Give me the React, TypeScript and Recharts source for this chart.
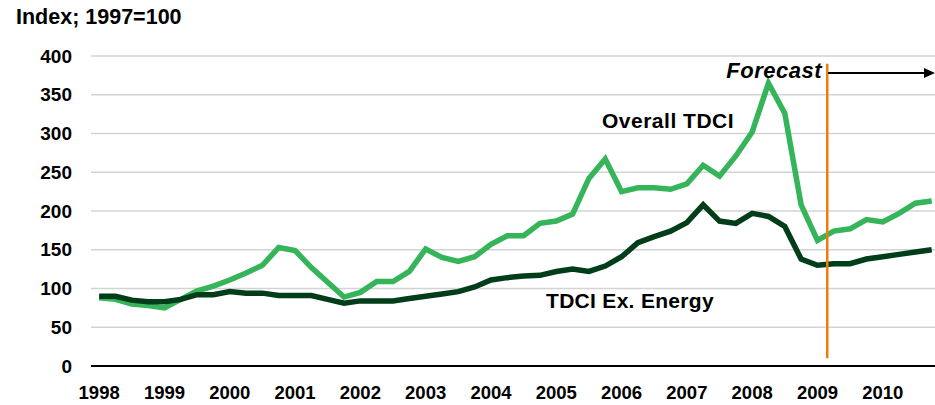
import React from "react";
import { CartesianGrid, Line, LineChart, ReferenceLine, XAxis, YAxis } from "recharts";

// Quarterly index, 1998 Q1 .. 2010 Q4 (1997 = 100)
const quarters = Array.from({ length: 52 }, (_, i) => i);

const overallTdci = [
  88, 86, 80, 78, 75, 86, 97, 103, 111, 120,
  130, 153, 149, 127, 108, 89, 95, 109, 109, 122,
  151, 140, 135, 141, 157, 168, 168, 184, 187, 196,
  242, 267, 225, 230, 230, 228, 235, 259, 245, 271,
  302, 365, 326, 208, 162, 174, 177, 189, 186, 197,
  210, 213,
];

const tdciExEnergy = [
  90, 90, 85, 83, 83, 86, 92, 92, 96, 94,
  94, 91, 91, 91, 86, 81, 84, 84, 84, 87,
  90, 93, 96, 102, 111, 114, 116, 117, 122, 125,
  122, 129, 141, 159, 167, 174, 185, 208, 187, 184,
  197, 193, 180, 138, 130, 132, 132, 138, 141, 144,
  147, 150,
];

const yearLabels = [
  "1998", "1999", "2000", "2001", "2002", "2003", "2004",
  "2005", "2006", "2007", "2008", "2009", "2010",
];
const yTicks = [0, 50, 100, 150, 200, 250, 300, 350, 400];

// forecast starts between 2009 Q1 and Q2
const FORECAST_AT = 44.6;

const data = quarters.map((q) => ({
  q,
  overall: overallTdci[q],
  exEnergy: tdciExEnergy[q],
}));

const FONT = "'Liberation Sans', Arial, sans-serif";
const LIGHT = "#35b45a";
const DARK = "#003d18";
const ORANGE = "#f07d0a";

/* forecast arrow: line plus a small filled head at the scaled end point */
function ArrowShape(props: any) {
  const { x1, y1, x2, y2 } = props;
  if (x1 == null || x2 == null) return <g />;
  return (
    <g>
      <line x1={x1} y1={y1} x2={x2 - 8} y2={y2} stroke="#000" strokeWidth={2} />
      <polygon points={`${x2 - 11},${y2 - 5} ${x2},${y2} ${x2 - 11},${y2 + 5}`} fill="#000" />
    </g>
  );
}

export default function App() {
  return (
    <div style={{ position: "absolute", left: 0, top: 0, width: 935, height: 405, background: "#fff" }}>
      <LineChart
        width={935}
        height={405}
        data={data}
        margin={{ top: 56, right: 0, bottom: 0, left: 0 }}
      >
        <CartesianGrid vertical={false} stroke="#d3d3d3" strokeWidth={1.3} />
        <XAxis
          dataKey="q"
          type="number"
          domain={[-0.5, 51.2]}
          ticks={yearLabels.map((_, i) => i * 4)}
          tickFormatter={(v: number) => yearLabels[v / 4]}
          height={39}
          tickLine={false}
          tickSize={0}
          tickMargin={20}
          axisLine={{ stroke: "#000", strokeWidth: 2 }}
          tick={{ fontFamily: FONT, fontSize: 18.5, fontWeight: 700, fill: "#000" }}
          interval={0}
        />
        <YAxis
          domain={[0, 400]}
          ticks={yTicks}
          width={91}
          tickLine={false}
          tickSize={0}
          tickMargin={19}
          axisLine={false}
          tick={{ fontFamily: FONT, fontSize: 19, fontWeight: 700, fill: "#000" }}
          interval={0}
        />
        <Line
          dataKey="overall"
          stroke={LIGHT}
          strokeWidth={5.5}
          dot={false}
          type="linear"
          isAnimationActive={false}
        />
        <Line
          dataKey="exEnergy"
          stroke={DARK}
          strokeWidth={5.5}
          dot={false}
          type="linear"
          isAnimationActive={false}
        />
        <ReferenceLine
          segment={[
            { x: FORECAST_AT, y: 10 },
            { x: FORECAST_AT, y: 390 },
          ]}
          stroke={ORANGE}
          strokeWidth={2.5}
          ifOverflow="visible"
        />
        <ReferenceLine
          segment={[
            { x: FORECAST_AT + 0.05, y: 378 },
            { x: 51.2, y: 378 },
          ]}
          shape={<ArrowShape />}
          ifOverflow="visible"
        />
      </LineChart>
      <svg
        width={935}
        height={405}
        style={{ position: "absolute", left: 0, top: 0, pointerEvents: "none" }}
        fontFamily={FONT}
        fontWeight={700}
      >
        <text x={16} y={24} fontSize={21.5} fill="#000">
          Index; 1997=100
        </text>
        <text x={602} y={128} fontSize={21} letterSpacing={0.5} fill="#000">
          Overall TDCI
        </text>
        <text x={546} y={308} fontSize={21} letterSpacing={0.3} fill="#000">
          TDCI Ex. Energy
        </text>
        <text x={822} y={78} fontSize={22} letterSpacing={0.5} fontStyle="italic" textAnchor="end" fill="#000">
          Forecast
        </text>
      </svg>
    </div>
  );
}
